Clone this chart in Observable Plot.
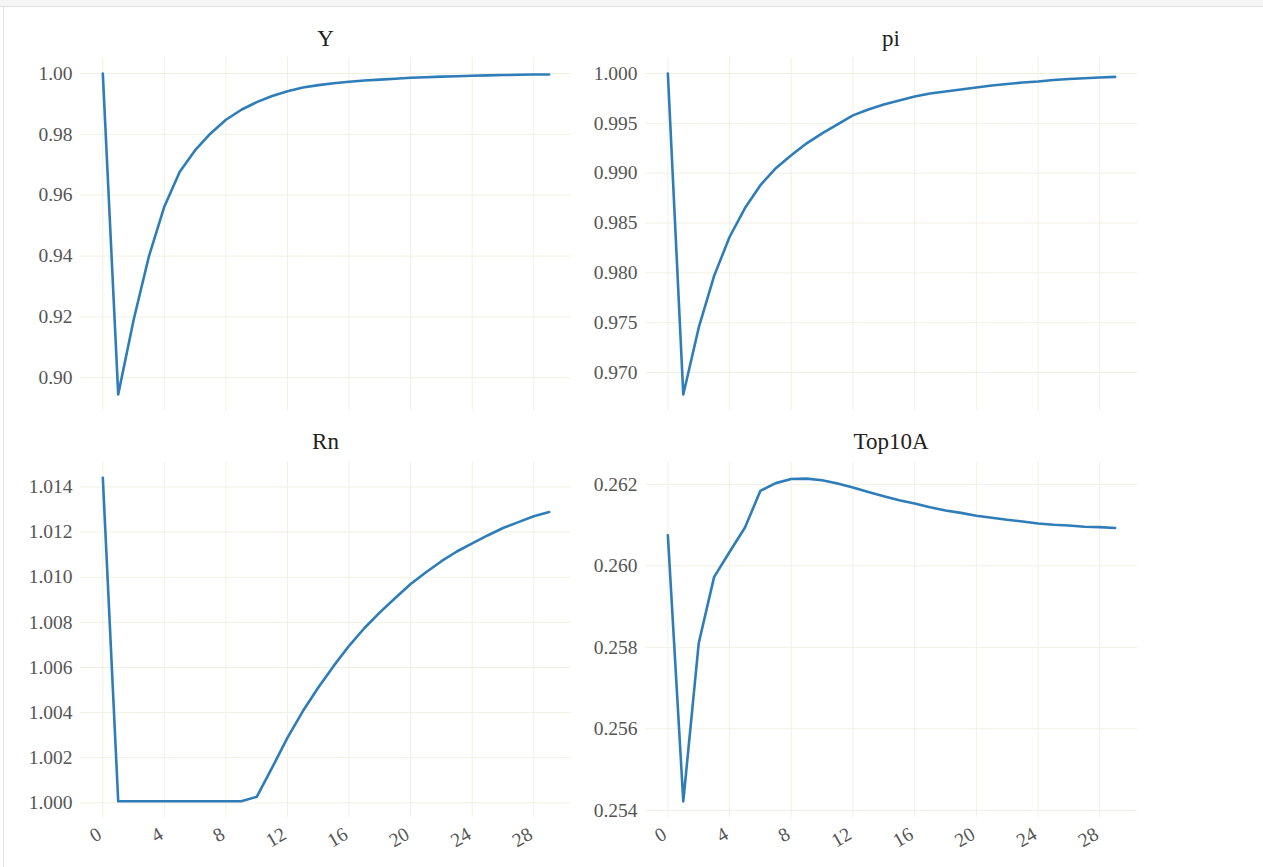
<!DOCTYPE html>
<html><head><meta charset="utf-8">
<script src="https://cdn.jsdelivr.net/npm/d3@7"></script>
<script src="https://cdn.jsdelivr.net/npm/@observablehq/plot@0.6"></script>
<style>
body{margin:0;background:#fff;width:1263px;height:867px;overflow:hidden;position:relative;font-family:"Liberation Serif",serif;}
#topbar{position:absolute;left:0;top:0;width:1263px;height:6px;background:#f5f5f5;border-bottom:1px solid #e0e0e0;}
#leftline{position:absolute;left:3px;top:7px;width:1px;height:860px;background:#e3e3e3;}
.panel{position:absolute;}
.panel svg text{font-family:"Liberation Serif",serif !important;font-size:19.5px !important;}
.title{position:absolute;font-size:23px;line-height:23px;color:#222;white-space:nowrap;transform:translateX(-50%);}
</style></head><body>
<div id="topbar"></div><div id="leftline"></div>
<script>
const periods = [0,1,2,3,4,5,6,7,8,9,10,11,12,13,14,15,16,17,18,19,20,21,22,23,24,25,26,27,28,29];
const xTicks = [0,4,8,12,16,20,24,28];

const Y = [1.0000,0.8945,0.9190,0.9400,0.9563,0.9677,0.9748,0.9803,0.9848,0.9881,0.9906,0.9926,0.9942,0.9954,0.9962,0.9968,0.9973,0.9977,0.9980,0.9983,0.9986,0.9988,0.9990,0.9991,0.9993,0.9994,0.9995,0.9996,0.9997,0.9997];
const pi = [1.0000,0.9678,0.9745,0.9797,0.9836,0.9865,0.9888,0.9905,0.9918,0.9930,0.9940,0.9949,0.9958,0.9964,0.9969,0.9973,0.9977,0.9980,0.9982,0.9984,0.9986,0.9988,0.99895,0.9991,0.9992,0.99935,0.99945,0.99953,0.9996,0.99967];
const Rn = [1.01441,1.00007,1.00007,1.00007,1.00007,1.00007,1.00007,1.00007,1.00007,1.00007,1.00027,1.00156,1.00289,1.00407,1.00511,1.00607,1.00696,1.00775,1.00844,1.00908,1.0097,1.01022,1.01071,1.01114,1.0115,1.01185,1.01218,1.01244,1.0127,1.01289];
const Top10A = [0.26075,0.25422,0.2581,0.25973,0.26034,0.26094,0.26184,0.26203,0.26213,0.26214,0.2621,0.26202,0.26192,0.26181,0.26171,0.26161,0.26153,0.26144,0.26136,0.2613,0.26123,0.26118,0.26113,0.26109,0.26104,0.26101,0.26099,0.26096,0.26095,0.26093];

const titles = ["Y","pi","Rn","Top10A"];
const yTicksY = [0.90,0.92,0.94,0.96,0.98,1.00];
const yTicksPi = [0.970,0.975,0.980,0.985,0.990,0.995,1.000];
const yTicksRn = [1.000,1.002,1.004,1.006,1.008,1.010,1.012,1.014];
const yTicksTop = [0.254,0.256,0.258,0.260,0.262];

const panels = [
  {title:titles[0], values:Y, ticks:yTicksY, fmt:".2f", left:0, top:50, width:600, height:370, ml:80, mr:29, mt:7, mb:10, bottom:false},
  {title:titles[1], values:pi, ticks:yTicksPi, fmt:".3f", left:600, top:50, width:560, height:370, ml:45, mr:23, mt:7, mb:10, bottom:false},
  {title:titles[2], values:Rn, ticks:yTicksRn, fmt:".3f", left:0, top:455, width:600, height:412, ml:80, mr:29, mt:6, mb:50, bottom:true},
  {title:titles[3], values:Top10A, ticks:yTicksTop, fmt:".3f", left:600, top:455, width:560, height:412, ml:45, mr:23, mt:7, mb:50, bottom:true}
];

const gridColor = "#f1f1e2";
const lineColor = "#2e7db9";
const serif = '"Liberation Serif", serif';

for (const p of panels) {
  const [lo, hi] = d3.extent(p.values);
  const pad = (hi - lo) * 0.05;
  const [xlo, xhi] = d3.extent(periods);
  const xpad = (xhi - xlo) * 0.05;
  const marks = [
    Plot.gridX(xTicks, {stroke: gridColor, strokeOpacity: 1, strokeWidth: 1}),
    Plot.gridY(p.ticks, {stroke: gridColor, strokeOpacity: 1, strokeWidth: 1}),
    Plot.axisY(p.ticks, {tickSize: 0, tickPadding: 8, tickFormat: d3.format(p.fmt), fontSize: 19.5, fontFamily: serif, fill: "#555", label: null}),
    Plot.lineY(p.values, {x: periods, y: d => d, stroke: lineColor, strokeWidth: 2.6, strokeLinejoin: "round"})
  ];
  if (p.bottom) marks.push(Plot.axisX(xTicks, {tickSize: 0, tickPadding: 15, dx: -3, tickRotate: -30, fontSize: 19.5, fontFamily: serif, fill: "#555", label: null}));
  const chart = Plot.plot({
    width: p.width, height: p.height,
    marginLeft: p.ml, marginRight: p.mr, marginTop: p.mt, marginBottom: p.mb,
    style: {fontFamily: serif, fontSize: "19.5px", background: "transparent", overflow: "visible"},
    x: {domain: [xlo - xpad, xhi + xpad], axis: p.bottom ? undefined : null},
    y: {domain: [lo - pad, hi + pad]},
    marks
  });
  const wrap = document.createElement("div");
  wrap.className = "panel";
  wrap.style.left = p.left + "px";
  wrap.style.top = p.top + "px";
  wrap.appendChild(chart);
  document.body.appendChild(wrap);
  const t = document.createElement("div");
  t.className = "title";
  t.textContent = p.title;
  t.style.left = (p.left + p.ml + (p.width - p.ml - p.mr) / 2) + "px";
  t.style.top = (p.bottom ? 430 : 27) + "px";
  document.body.appendChild(t);
}
</script>
</body></html>
